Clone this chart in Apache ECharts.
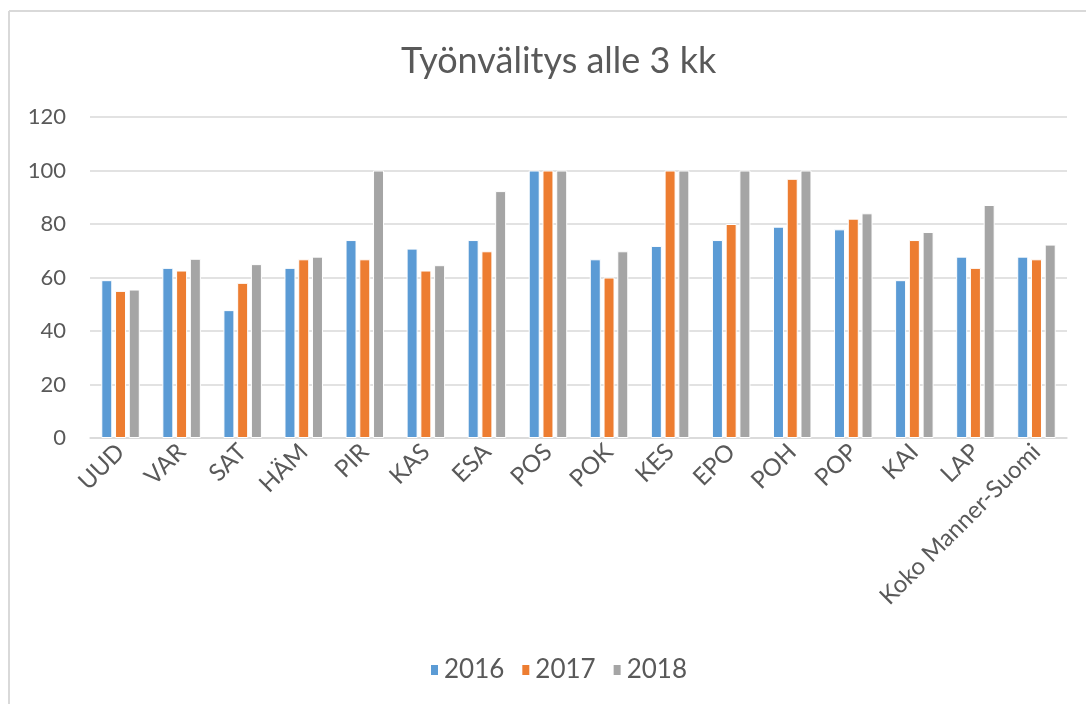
<!DOCTYPE html>
<html>
<head>
<meta charset="utf-8">
<script src="https://cdn.jsdelivr.net/npm/echarts@6/dist/echarts.min.js"></script>
<style>
  html, body { margin: 0; padding: 0; background: #fff; }
  #main { width: 1086px; height: 704px; }
</style>
</head>
<body>
<div id="main"></div>
<script>
// alueet (x-akseli)
var regions = ['UUD', 'VAR', 'SAT', 'HÄM', 'PIR', 'KAS', 'ESA', 'POS', 'POK', 'KES', 'EPO', 'POH', 'POP', 'KAI', 'LAP', 'Koko Manner-Suomi'];
var years = ['2016', '2017', '2018'];

// arvot luettu kuvasta
var v2016 = [59, 63.6, 47.8, 63.6, 74, 70.8, 74, 100, 66.8, 71.8, 74, 79, 78, 59, 67.8, 67.8];
var v2017 = [55, 62.6, 58, 66.8, 66.8, 62.6, 69.8, 100, 60, 100, 80, 96.9, 82, 74, 63.6, 66.8];
var v2018 = [55.5, 67, 65, 67.8, 100, 64.6, 92.3, 100, 69.8, 100, 100, 100, 84, 77, 87.1, 72.3];

var yTicks = { min: 0, max: 120, interval: 20 };
var colors = ['#5B9BD5', '#ED7D31', '#A5A5A5'];

var chart = echarts.init(document.getElementById('main'));

function barSeries(name, data) {
  return {
    name: name,
    type: 'bar',
    data: data,
    barWidth: 11,
    barGap: '25%',
    itemStyle: { borderColor: '#fff', borderWidth: 1 }
  };
}

var option = {
  animation: false,
  color: colors,
  textStyle: { fontFamily: 'Lato, "Open Sans", sans-serif', color: '#595959' },
  title: {
    text: 'Työnvälitys alle 3 kk',
    left: 396,
    top: 38,
    textStyle: { fontSize: 36, fontWeight: 'normal', color: '#595959', fontFamily: 'Lato' }
  },
  legend: {
    data: years,
    bottom: 16,
    left: 424,
    icon: 'rect',
    itemWidth: 9,
    itemHeight: 12,
    itemGap: 16,
    textStyle: { fontSize: 26, color: '#595959', fontFamily: 'Lato' }
  },
  grid: { left: 90, right: 19, top: 117, bottom: 266 },
  xAxis: {
    type: 'category',
    data: regions,
    axisLine: { lineStyle: { color: '#d9d9d9', width: 1.5 } },
    axisTick: { show: false },
    axisLabel: { rotate: 45, fontSize: 24, color: '#595959', margin: 10, interval: 0 }
  },
  yAxis: {
    type: 'value',
    min: yTicks.min,
    max: yTicks.max,
    interval: yTicks.interval,
    axisLine: { show: false },
    axisTick: { show: false },
    splitLine: { lineStyle: { color: '#d9d9d9', width: 1.5 } },
    axisLabel: { fontSize: 22, color: '#595959', margin: 24 }
  },
  graphic: [
    { type: 'line', shape: { x1: 9, y1: 11, x2: 1086, y2: 11 }, style: { stroke: '#d9d9d9', lineWidth: 2 } },
    { type: 'line', shape: { x1: 9, y1: 11, x2: 9, y2: 704 }, style: { stroke: '#d9d9d9', lineWidth: 2 } }
  ],
  series: [
    barSeries(years[0], v2016),
    barSeries(years[1], v2017),
    barSeries(years[2], v2018)
  ]
};

chart.setOption(option);
</script>
</body>
</html>
